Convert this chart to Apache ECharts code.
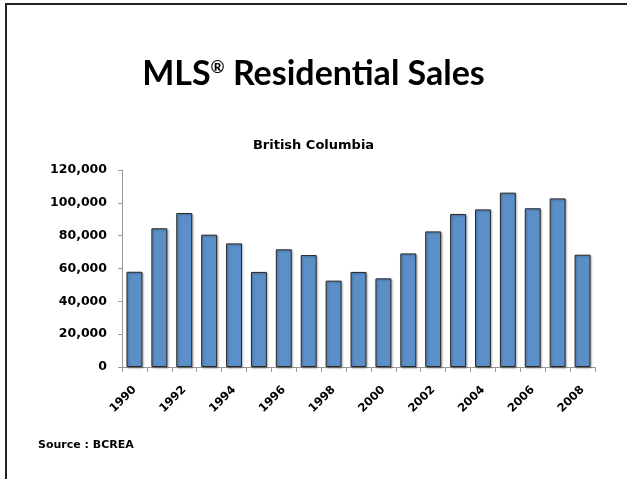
<!DOCTYPE html>
<html><head><meta charset="utf-8">
<script src="https://cdn.jsdelivr.net/npm/echarts@6/dist/echarts.min.js"></script>
<style>html,body{margin:0;padding:0;background:#fff}#c{width:627px;height:479px}</style>
</head><body><div id="c"></div>
<script>
const years = ['1990','1991','1992','1993','1994','1995','1996','1997','1998','1999','2000','2001','2002','2003','2004','2005','2006','2007','2008'];
const sales = [58000,84500,93800,80600,75300,57900,71700,68200,52600,57900,54000,69200,82600,93200,96000,106200,96700,102700,68400];
const yTicks = {min:0, max:120000, interval:20000};
const titleMain = 'MLS';
const titleMark = '®';
const titleRest = ' Residential Sales';
const subtitleText = 'British Columbia';
const sourceText = 'Source : BCREA';

const chart = echarts.init(document.getElementById('c'));
const fam = 'Lato, "Liberation Sans", sans-serif';
const small = '"DejaVu Sans", sans-serif';
chart.setOption({
  animation:false,
  backgroundColor:'#fff',
  title:[
    {text:'{a|'+titleMain+'}{s|'+titleMark+'}{a|'+titleRest+'}',left:'center',top:43,
      textStyle:{rich:{
        a:{fontFamily:fam,fontWeight:'bold',fontSize:34,color:'#000',height:40},
        s:{fontFamily:fam,fontWeight:'bold',fontSize:17,color:'#000',verticalAlign:'top',padding:[0,0,12,0],height:40}
      }}},
    {text:subtitleText,left:'center',top:134,textStyle:{fontFamily:small,fontWeight:'bold',fontSize:13,color:'#000'}},
    {text:sourceText,left:33,top:435,textStyle:{fontFamily:small,fontWeight:'bold',fontSize:11,color:'#000'}}
  ],
  graphic:[{type:'rect',shape:{x:6,y:4,width:800,height:700},style:{fill:'none',stroke:'#222',lineWidth:2},silent:true}],
  grid:{left:122,right:32,top:170,bottom:112},
  xAxis:{type:'category',data:years,boundaryGap:true,
    axisLine:{lineStyle:{color:'#999'}},
    axisTick:{show:true,alignWithLabel:false,interval:0,length:5,lineStyle:{color:'#999'}},
    axisLabel:{interval:1,rotate:45,margin:21,fontFamily:small,fontWeight:'bold',fontSize:11.5,color:'#000'}},
  yAxis:{type:'value',min:yTicks.min,max:yTicks.max,interval:yTicks.interval,
    axisLine:{show:true,lineStyle:{color:'#999'}},
    axisTick:{show:true,length:4,lineStyle:{color:'#999'}},
    splitLine:{show:false},
    axisLabel:{margin:15,fontFamily:small,fontWeight:'bold',fontSize:12.5,color:'#000',
      formatter:v=>v===0?'0':v.toLocaleString('en-US')}},
  series:[{type:'bar',data:sales,barCategoryGap:'36%',
    itemStyle:{color:'#5b8fc8',borderColor:'#2a2a2a',borderWidth:1,shadowColor:'rgba(0,0,0,0.3)',shadowBlur:2,shadowOffsetX:1,shadowOffsetY:1}}]
});
</script></body></html>
